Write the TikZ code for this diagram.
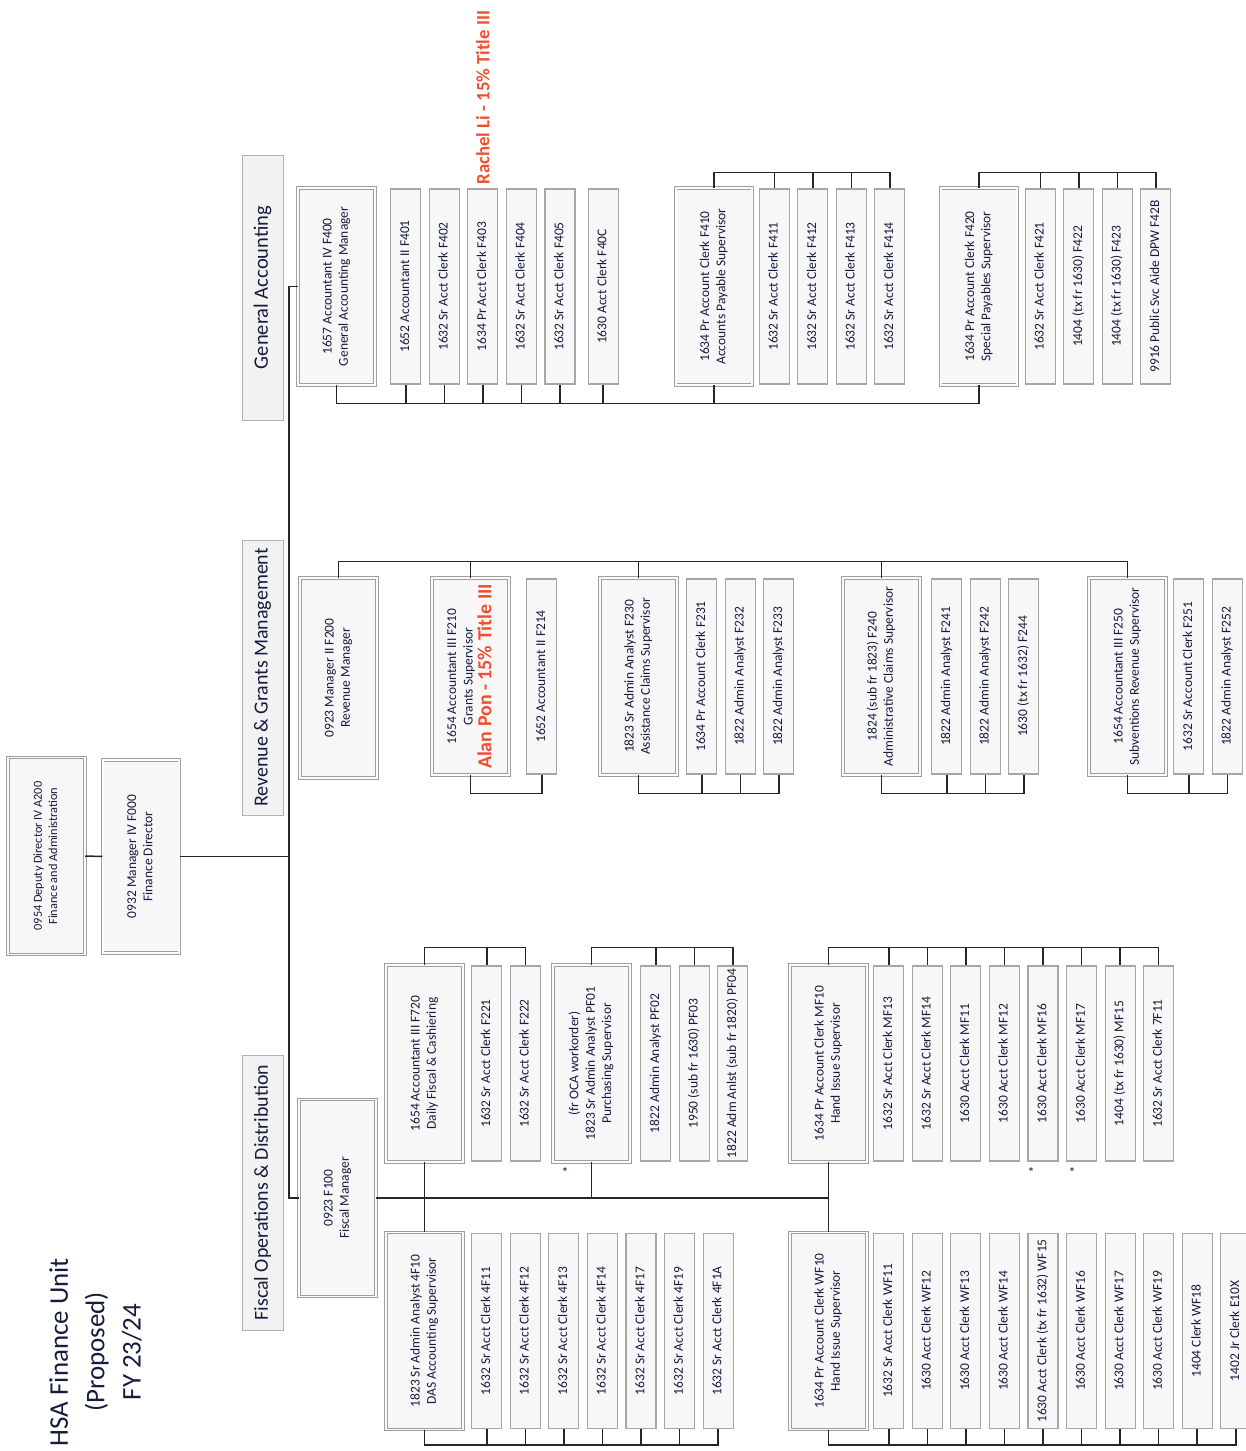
\documentclass[tikz,border=0pt]{standalone}
\usepackage{fontspec}
\setmainfont{Carlito}
\usepackage{graphicx}
\usepackage{tikz}
\usetikzlibrary{positioning}
\definecolor{inkblue}{RGB}{22,28,62}
\definecolor{alertred}{RGB}{240,78,45}
\newcommand{\vtxt}[1]{\rotatebox{90}{\begin{tabular}{@{}c@{}}#1\end{tabular}}}

\begin{document}
\begin{tikzpicture}[
  x=0.3mm, y=-0.3mm,
  node distance=0.4cm and 2.25mm,
  supbox/.style={draw=gray!75, line width=0.7pt, double=gray!3, double distance=1.6pt, fill=gray!6, minimum width=23mm, minimum height=59.1mm, inner sep=0pt, text=inkblue, font=\fontsize{11.5}{14}\selectfont},
  posbox/.style={draw=gray!70, line width=0.9pt, fill=gray!6, minimum width=9mm, minimum height=58.5mm, inner sep=0pt, text=inkblue, font=\fontsize{11.5}{14}\selectfont},
  sect/.style={draw=gray!60, line width=0.7pt, fill=gray!10, minimum width=12.3mm, minimum height=79.5mm, inner sep=0pt, text=inkblue, font=\fontsize{17.5}{21}\selectfont},
  bus/.style={line width=1.3pt, black!85},
  tag/.style={text=alertred, font=\fontsize{16}{19}\selectfont\bfseries, inner sep=0pt}
]
  \useasboundingbox (0,0) rectangle (1246,1451);

  \node[text=inkblue, font=\fontsize{23}{31}\selectfont] (title) at (97,1352) {\vtxt{HSA Finance Unit\\(Proposed)\\FY 23/24}};

  \node[supbox, font=\fontsize{10.5}{13}\selectfont] (dd) at (46.5,856) {\vtxt{0954 Deputy Director IV A200\\Finance and Administration}};
  \node[supbox, minimum height=58mm] (fd) at (141,856.5) {\vtxt{0932 Manager IV F000\\Finance Director}};

  \node[sect] (ga) at (262.5,287.5) {\rotatebox{90}{General Accounting}};
  \node[sect, minimum height=82.5mm, font=\fontsize{17}{20}\selectfont] (rg) at (262.5,677.5) {\rotatebox{90}{Revenue \& Grants Management}};
  \node[sect, minimum height=82.5mm, font=\fontsize{17}{20}\selectfont] (fo) at (262.5,1192.5) {\rotatebox{90}{Fiscal Operations \& Distribution}};

  \node[supbox] (f400) at (336.5,286.5) {\vtxt{1657 Accountant IV F400\\General Accounting Manager}};
  \node[posbox, right=4.5mm of f400] (f401) {\vtxt{1652 Accountant II F401}};
  \node[posbox, right=of f401] (f402) {\vtxt{1632 Sr Acct Clerk F402}};
  \node[posbox, right=of f402] (f403) {\vtxt{1634 Pr Acct Clerk F403}};
  \node[posbox, right=of f403] (f404) {\vtxt{1632 Sr Acct Clerk F404}};
  \node[posbox, right=of f404] (f405) {\vtxt{1632 Sr Acct Clerk F405}};
  \node[posbox, right=3.6mm of f405] (f40c) {\vtxt{1630 Acct Clerk F40C}};
  \node[tag, above=1.2mm of f403] (rli) {\rotatebox{90}{Rachel Li - 15\% Title III}};

  \node[supbox] (f410) at (714,286.5) {\vtxt{1634 Pr Account Clerk F410\\Accounts Payable Supervisor}};
  \node[posbox, right=1.8mm of f410] (f411) {\vtxt{1632 Sr Acct Clerk F411}};
  \node[posbox, right=of f411] (f412) {\vtxt{1632 Sr Acct Clerk F412}};
  \node[posbox, right=of f412] (f413) {\vtxt{1632 Sr Acct Clerk F413}};
  \node[posbox, right=of f413] (f414) {\vtxt{1632 Sr Acct Clerk F414}};

  \node[supbox] (f420) at (979,286.5) {\vtxt{1634 Pr Account Clerk F420\\Special Payables Supervisor}};
  \node[posbox, right=2.1mm of f420] (f421) {\vtxt{1632 Sr Acct Clerk F421}};
  \node[posbox, right=of f421] (f422) {\vtxt{1404 (tx fr 1630) F422}};
  \node[posbox, right=of f422] (f423) {\vtxt{1404 (tx fr 1630) F423}};
  \node[posbox, right=of f423] (f42b) {\vtxt{9916 Public Svc Aide DPW F42B}};

  \node[supbox, minimum height=60mm] (f200) at (338.5,678) {\vtxt{0923 Manager II F200\\Revenue Manager}};
  \node[supbox] (f210) at (470.5,676.5) {\vtxt{1654 Accountant III F210\\Grants Supervisor\\{\color{alertred}\fontsize{17}{19}\selectfont\bfseries Alan Pon - 15\% Title III}}};
  \node[posbox, right=5.1mm of f210] (f214) {\vtxt{1652 Accountant II F214}};

  \node[supbox] (f230) at (638.5,676.5) {\vtxt{1823 Sr Admin Analyst F230\\Assistance Claims Supervisor}};
  \node[posbox, right=2.7mm of f230] (f231) {\vtxt{1634 Pr Account Clerk F231}};
  \node[posbox, right=of f231] (f232) {\vtxt{1822 Admin Analyst F232}};
  \node[posbox, right=of f232] (f233) {\vtxt{1822 Admin Analyst F233}};

  \node[supbox] (f240) at (881.5,676.5) {\vtxt{1824 (sub fr 1823) F240\\Administrative Claims Supervisor}};
  \node[posbox, right=3.3mm of f240] (f241) {\vtxt{1822 Admin Analyst F241}};
  \node[posbox, right=of f241] (f242) {\vtxt{1822 Admin Analyst F242}};
  \node[posbox, right=of f242] (f244) {\vtxt{1630 (tx fr 1632) F244}};

  \node[supbox] (f250) at (1127.5,676.5) {\vtxt{1654 Accountant III F250\\Subventions Revenue Supervisor}};
  \node[posbox, right=2.1mm of f250] (f251) {\vtxt{1632 Sr Account Clerk F251}};
  \node[posbox, right=of f251] (f252) {\vtxt{1822 Admin Analyst F252}};

  \node[supbox] (f100) at (337.5,1198) {\vtxt{0923 F100\\Fiscal Manager}};

  \node[supbox] (f720) at (424.5,1063.5) {\vtxt{1654 Accountant III F720\\Daily Fiscal \& Cashiering}};
  \node[posbox, right=2.4mm of f720] (f721) {\vtxt{1632 Sr Acct Clerk F221}};
  \node[posbox, right=of f721] (f722) {\vtxt{1632 Sr Acct Clerk F222}};

  \node[supbox] (pf01) at (591.5,1063.5) {\vtxt{(fr OCA workorder)\\1823 Sr Admin Analyst PF01\\Purchasing Supervisor}};
  \node[posbox, right=3mm of pf01] (pf02) {\vtxt{1822 Admin Analyst PF02}};
  \node[posbox, right=of pf02] (pf03) {\vtxt{1950 (sub fr 1630) PF03}};
  \node[posbox, right=of pf03] (pf04) {\vtxt{1822 Adm Anlst (sub fr 1820) PF04}};

  \node[supbox] (mf10) at (828.5,1063.5) {\vtxt{1634 Pr Account Clerk MF10\\Hand Issue Supervisor}};
  \node[posbox, right=1.8mm of mf10] (mf13) {\vtxt{1632 Sr Acct Clerk MF13}};
  \node[posbox, right=of mf13] (mf14) {\vtxt{1632 Sr Acct Clerk MF14}};
  \node[posbox, right=of mf14] (mf11) {\vtxt{1630 Acct Clerk MF11}};
  \node[posbox, right=of mf11] (mf12) {\vtxt{1630 Acct Clerk MF12}};
  \node[posbox, right=of mf12] (mf16) {\vtxt{1630 Acct Clerk MF16}};
  \node[posbox, right=of mf16] (mf17) {\vtxt{1630 Acct Clerk MF17}};
  \node[posbox, right=of mf17] (mf15) {\vtxt{1404 (tx fr 1630) MF15}};
  \node[posbox, right=of mf15] (sf11) {\vtxt{1632 Sr Acct Clerk 7F11}};

  \node[supbox] (das10) at (424.5,1331) {\vtxt{1823 Sr Admin Analyst 4F10\\DAS Accounting Supervisor}};
  \node[posbox, right=2.4mm of das10] (das11) {\vtxt{1632 Sr Acct Clerk 4F11}};
  \node[posbox, right=of das11] (das12) {\vtxt{1632 Sr Acct Clerk 4F12}};
  \node[posbox, right=of das12] (das13) {\vtxt{1632 Sr Acct Clerk 4F13}};
  \node[posbox, right=of das13] (das14) {\vtxt{1632 Sr Acct Clerk 4F14}};
  \node[posbox, right=of das14] (das17) {\vtxt{1632 Sr Acct Clerk 4F17}};
  \node[posbox, right=of das17] (das19) {\vtxt{1632 Sr Acct Clerk 4F19}};
  \node[posbox, right=of das19] (das1a) {\vtxt{1632 Sr Acct Clerk 4F1A}};

  \node[supbox] (wf10) at (828.5,1331) {\vtxt{1634 Pr Account Clerk WF10\\Hand Issue Supervisor}};
  \node[posbox, right=1.8mm of wf10] (wf11) {\vtxt{1632 Sr Acct Clerk WF11}};
  \node[posbox, right=of wf11] (wf12) {\vtxt{1630 Acct Clerk WF12}};
  \node[posbox, right=of wf12] (wf13) {\vtxt{1630 Acct Clerk WF13}};
  \node[posbox, right=of wf13] (wf14) {\vtxt{1630 Acct Clerk WF14}};
  \node[posbox, right=of wf14] (wf15) {\vtxt{1630 Acct Clerk (tx fr 1632) WF15}};
  \node[posbox, right=of wf15] (wf16) {\vtxt{1630 Acct Clerk WF16}};
  \node[posbox, right=of wf16] (wf17) {\vtxt{1630 Acct Clerk WF17}};
  \node[posbox, right=of wf17] (wf19) {\vtxt{1630 Acct Clerk WF19}};
  \node[posbox, right=of wf19] (wf18) {\vtxt{1404 Clerk WF18}};
  \node[posbox, right=of wf18] (e10x) {\vtxt{1402 Jr Clerk E10X}};

  \node[text=inkblue, font=\fontsize{12}{14}\selectfont] (ast1) at (565,1172) {*};
  \node[text=inkblue, font=\fontsize{12}{14}\selectfont] (ast2) at (1031,1172) {*};
  \node[text=inkblue, font=\fontsize{12}{14}\selectfont] (ast3) at (1072,1172) {*};

  \draw[bus] (dd.east) -- (fd.west);
  \draw[bus] (f400.west) -- ++(-9,0) coordinate (tk) |- (f100.west);
  \draw[bus] (fd.east) -- (fd.east -| tk);

  \foreach \n in {f401,f402,f403,f404,f405,f40c,f410,f420}
    \draw[bus] (f400.south) -- ++(0,18) -| (\n.south);
  \foreach \n in {f411,f412,f413,f414}
    \draw[bus] (f410.north) -- ++(0,-15) -| (\n.north);
  \foreach \n in {f421,f422,f423,f42b}
    \draw[bus] (f420.north) -- ++(0,-15) -| (\n.north);

  \foreach \n in {f210,f230,f240,f250}
    \draw[bus] (f200.north) -- ++(0,-16) -| (\n.north);
  \draw[bus] (f210.south) -- ++(0,18) -| (f214.south);
  \foreach \n in {f231,f232,f233}
    \draw[bus] (f230.south) -- ++(0,18) -| (\n.south);
  \foreach \n in {f241,f242,f244}
    \draw[bus] (f240.south) -- ++(0,18) -| (\n.south);
  \foreach \n in {f251,f252}
    \draw[bus] (f250.south) -- ++(0,18) -| (\n.south);

  \draw[bus] (f100.east) -- (f100.east -| mf10.south);
  \draw[bus] (f720.south) -- (das10.north);
  \draw[bus] (mf10.south) -- (wf10.north);
  \draw[bus] (pf01.south) -- (pf01.south |- f100.east);
  \foreach \n in {f721,f722}
    \draw[bus] (f720.north) -- ++(0,-17) -| (\n.north);
  \foreach \n in {pf02,pf03,pf04}
    \draw[bus] (pf01.north) -- ++(0,-17) -| (\n.north);
  \foreach \n in {mf13,mf14,mf11,mf12,mf16,mf17,mf15,sf11}
    \draw[bus] (mf10.north) -- ++(0,-17) -| (\n.north);
  \foreach \n in {das11,das12,das13,das14,das17,das19,das1a}
    \draw[bus] (das10.south) -- ++(0,15) -| (\n.south);
  \foreach \n in {wf11,wf12,wf13,wf14,wf15,wf16,wf17,wf19,wf18,e10x}
    \draw[bus] (wf10.south) -- ++(0,15) -| (\n.south);
\end{tikzpicture}
\end{document}
